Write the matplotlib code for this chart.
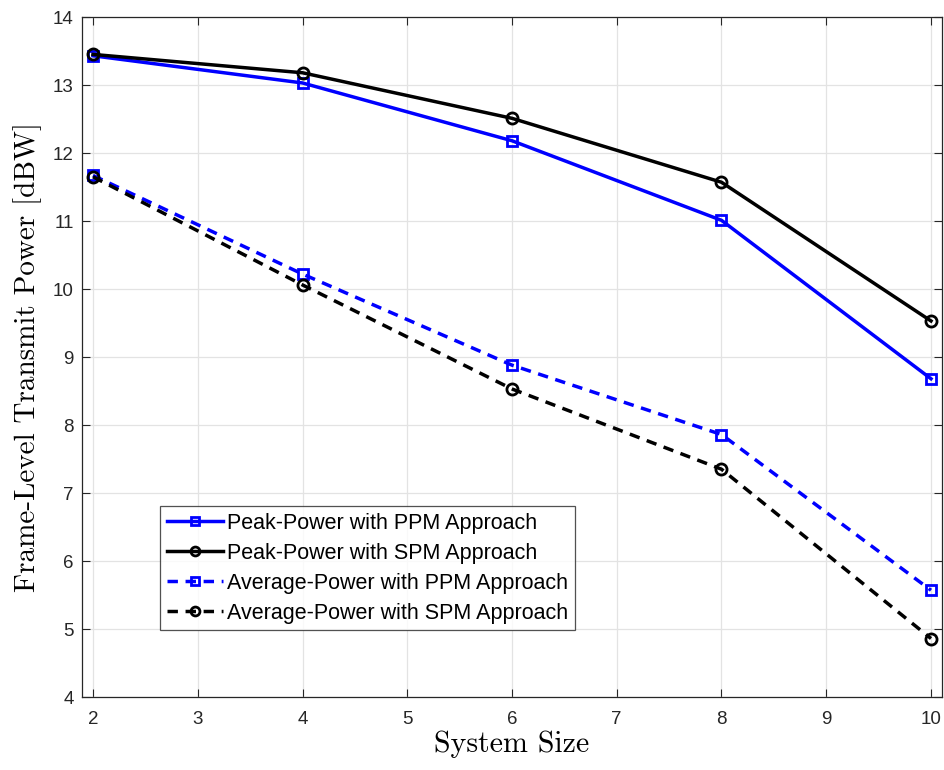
import matplotlib
matplotlib.use("Agg")
import matplotlib.pyplot as plt

system_size = [2, 4, 6, 8, 10]
peak_ppm = [13.43, 13.03, 12.18, 11.01, 8.68]
peak_spm = [13.45, 13.18, 12.51, 11.57, 9.53]
avg_ppm = [11.67, 10.22, 8.88, 7.86, 5.57]
avg_spm = [11.65, 10.06, 8.53, 7.35, 4.86]

labels = [
    "Peak-Power with PPM Approach",
    "Peak-Power with SPM Approach",
    "Average-Power with PPM Approach",
    "Average-Power with SPM Approach",
]


def main():
    plt.rcParams["font.family"] = ["Liberation Sans", "DejaVu Sans"]
    fig = plt.figure(figsize=(9.45, 7.7), dpi=100)
    ax = fig.add_axes([82 / 945, 73 / 770, 860 / 945, 680 / 770])

    dash = (0, (3.0, 2.2))
    ax.plot(system_size, peak_ppm, color="blue", lw=2.5, marker="s",
            ms=7, mfc="none", mew=2, label=labels[0])
    ax.plot(system_size, peak_spm, color="black", lw=2.5, marker="o",
            ms=8, mfc="none", mew=2, label=labels[1])
    ax.plot(system_size, avg_ppm, color="blue", lw=2.5, ls=dash, marker="s",
            ms=7, mfc="none", mew=2, label=labels[2])
    ax.plot(system_size, avg_spm, color="black", lw=2.5, ls=dash, marker="o",
            ms=8, mfc="none", mew=2, label=labels[3])

    ax.set_xlim(2 - 11 / 104.7, 10 + 11 / 104.7)
    ax.set_ylim(4, 14)
    ax.set_xticks(range(2, 11))
    ax.set_yticks(range(4, 15))
    ax.grid(True, color="#e3e3e3", lw=0.9)
    ax.set_axisbelow(True)
    ax.tick_params(direction="in", top=True, right=True, length=6,
                   labelsize=13.5, colors="#262626")
    ax.tick_params(axis="x", pad=10)
    ax.tick_params(axis="y", pad=6)
    for s in ax.spines.values():
        s.set_color("#262626")
        s.set_linewidth(0.9)

    ax.set_xlabel("System Size", family="cmr10", fontsize=21.5, labelpad=2)
    ax.set_ylabel("Frame-Level Transmit Power [dBW]", family="cmr10",
                  fontsize=21, labelpad=8)

    leg = ax.legend(loc="lower left", bbox_to_anchor=(0.091, 0.098),
                    fontsize=15.5, frameon=True, fancybox=False,
                    edgecolor="#262626", handlelength=2.6, handletextpad=0.2,
                    borderpad=0.3, labelspacing=0.42, borderaxespad=0,
                    markerscale=0.8)
    leg.get_frame().set_linewidth(0.9)

    fig.savefig("out.png", dpi=100)


if __name__ == "__main__":
    main()
